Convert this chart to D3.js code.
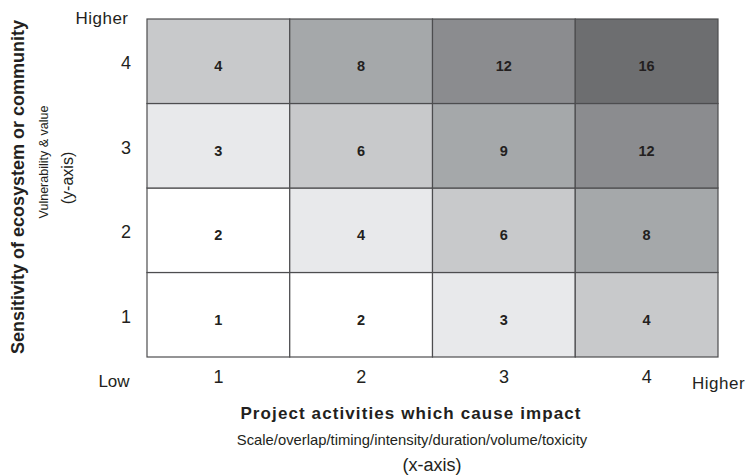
<!DOCTYPE html>
<html>
<head>
<meta charset="utf-8">
<script src="https://cdn.jsdelivr.net/npm/d3@7"></script>
<style>
  body { margin: 0; background: #fff; }
  text { font-family: "Liberation Sans", Arial, sans-serif; fill: #231f20; }
</style>
</head>
<body>
<div id="chart"></div>
<script>
"use strict";
// impact levels along x, sensitivity levels along y
const xLevels = [1, 2, 3, 4];
const yLevels = [1, 2, 3, 4];
// shade by risk band (x + y)
const bandSums = [2, 3, 4, 5, 6, 7, 8];
const bandColors = ["#ffffff", "#ffffff", "#e8e9eb", "#c8c9cb", "#a5a8aa", "#8b8c8f", "#6d6e70"];

const width = 745, height = 475;
const marginLeft = 147, marginRight = 27, marginTop = 19, marginBottom = 118;

const svg = d3.select("#chart").append("svg")
    .attr("width", width)
    .attr("height", height)
    .attr("viewBox", [0, 0, width, height]);

const x = d3.scaleBand()
    .domain(xLevels)
    .range([marginLeft, width - marginRight]);

const y = d3.scaleBand()
    .domain(yLevels)
    .range([height - marginBottom, marginTop]);

const color = d3.scaleOrdinal()
    .domain(bandSums)
    .range(bandColors);

const cells = d3.cross(xLevels, yLevels).map(([a, b]) => ({x: a, y: b, v: a * b}));

// cells
svg.append("g")
  .selectAll("rect")
  .data(cells)
  .join("rect")
    .attr("x", d => x(d.x))
    .attr("y", d => y(d.y))
    .attr("width", x.bandwidth())
    .attr("height", y.bandwidth())
    .attr("fill", d => color(d.x + d.y))
    .attr("stroke", "#4d4d4f")
    .attr("stroke-width", 1.2);

svg.append("g")
  .selectAll("text")
  .data(cells)
  .join("text")
    .attr("x", d => x(d.x) + x.bandwidth() / 2)
    .attr("y", d => y(d.y) + y.bandwidth() / 2 + 6)
    .attr("text-anchor", "middle")
    .attr("dominant-baseline", "middle")
    .style("font-size", "14.5px")
    .style("font-weight", "bold")
    .text(d => d.v);

// axes, drawn without lines
svg.append("g")
    .attr("transform", `translate(0,${height - marginBottom})`)
    .call(d3.axisBottom(x).tickSize(0).tickPadding(13))
    .call(g => g.select(".domain").remove())
    .call(g => g.selectAll("text")
        .style("font-size", "18px")
        .style("font-family", "Liberation Sans, Arial, sans-serif")
        .attr("fill", "#231f20"));

svg.append("g")
    .attr("transform", `translate(${marginLeft},0)`)
    .call(d3.axisLeft(y).tickSize(0).tickPadding(16))
    .call(g => g.select(".domain").remove())
    .call(g => g.selectAll("text")
        .attr("dy", "0.45em")
        .style("font-size", "18px")
        .style("font-family", "Liberation Sans, Arial, sans-serif")
        .attr("fill", "#231f20"));

// end labels
svg.append("text").attr("x", 102).attr("y", 24).attr("text-anchor", "middle")
    .style("font-size", "17px").style("letter-spacing", "0.5px").text("Higher");
svg.append("text").attr("x", 114).attr("y", 387).attr("text-anchor", "middle")
    .style("font-size", "17px").text("Low");
svg.append("text").attr("x", 692).attr("y", 389)
    .style("font-size", "17px").style("letter-spacing", "0.5px").text("Higher");

// x titles
svg.append("text").attr("x", 411).attr("y", 419).attr("text-anchor", "middle")
    .style("font-size", "17px").style("font-weight", "bold").style("letter-spacing", "1.1px")
    .text("Project activities which cause impact");
svg.append("text").attr("x", 412).attr("y", 445).attr("text-anchor", "middle")
    .style("font-size", "14.8px")
    .text("Scale/overlap/timing/intensity/duration/volume/toxicity");
svg.append("text").attr("x", 432).attr("y", 471).attr("text-anchor", "middle")
    .style("font-size", "18px")
    .text("(x-axis)");

// y titles
svg.append("text").attr("transform", "translate(24,187) rotate(-90)").attr("text-anchor", "middle")
    .style("font-size", "18px").style("font-weight", "bold")
    .text("Sensitivity of ecosystem or community");
svg.append("text").attr("transform", "translate(48,162) rotate(-90)").attr("text-anchor", "middle")
    .style("font-size", "12.5px")
    .text("Vulnerability & value");
svg.append("text").attr("transform", "translate(73,178) rotate(-90)").attr("text-anchor", "middle")
    .style("font-size", "16px")
    .text("(y-axis)");
</script>
</body>
</html>
